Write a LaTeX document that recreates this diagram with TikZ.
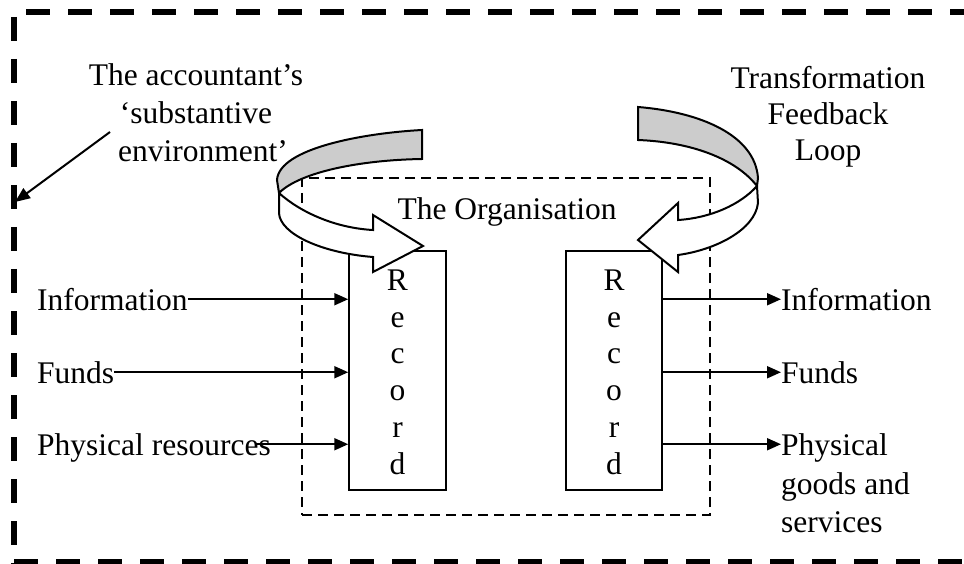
\documentclass[tikz,border=0pt]{standalone}
\usepackage{fontspec}
\setmainfont{Liberation Serif}
\usetikzlibrary{arrows.meta}
\definecolor{ribbongray}{RGB}{204,204,204}
\tikzset{
	lbl/.style={inner sep=0pt, text height=21.5pt, text depth=0pt},
	stack/.style={inner sep=0pt, align=#1},
	recbox/.style={draw, line width=2pt, fill=white, minimum width=96.5pt, minimum height=239pt, inner sep=0pt, align=center, font=\fontsize{31.5}{36.8}\selectfont},
	flow/.style={line width=2pt, -{Triangle[length=14pt,width=12pt]}},
	ribbon/.style={draw, line width=2pt, line join=miter},
	envline/.style={line width=6pt, dash pattern=on 24pt off 18pt},
}
\begin{document}
\begin{tikzpicture}[x=1pt, y=-1pt, font=\fontsize{31.5}{37}\selectfont]
		\useasboundingbox (0,0) rectangle (964,564);
		\clip (0,0) rectangle (964,564);
		% the environment border
		\draw [envline] (26,12) -- (964,12);
		\draw [envline] (14,17) -- (14,564);
		\draw [envline] (14,562) -- (964,562);
		\node [draw, line width=2pt, dash pattern=on 10pt off 6pt, minimum width=408pt, minimum height=337pt] (org) at (506,346.5) {};
		\node [lbl, anchor=base] (orgLbl) at (507,220) {The Organisation};
		\node [recbox] (recL) at (397.5,370.5) {\rule{0pt}{24pt}R\\e\\c\\o\\r\\d};
		\node [recbox] (recR) at (614,370.5) {\rule{0pt}{24pt}R\\e\\c\\o\\r\\d};
		\node [lbl, anchor=base west] (inInfo) at (37,310) {Information};
		\node [lbl, anchor=base west] (inFunds) at (37,383) {Funds};
		\node [lbl, anchor=base west] (inPhys) at (37,455) {Physical resources};
		\node [lbl, anchor=base west] (outInfo) at (781,310) {Information};
		\node [lbl, anchor=base west] (outFunds) at (781,383) {Funds};
		\node [stack=left, anchor=north west, font=\fontsize{31.5}{38.5}\selectfont] (outPhys) at (781,433.5) {Physical\\goods and\\services};
		\draw [flow] (inInfo.east) -- (inInfo.east -| recL.west);
		\draw [flow] (inFunds.east) -- (inFunds.east -| recL.west);
		\draw [flow] ([xshift=-16pt]inPhys.east) -- (inPhys.east -| recL.west);
		\draw [flow] (recR.east |- outInfo.west) -- (outInfo.west);
		\draw [flow] (recR.east |- outFunds.west) -- (outFunds.west);
		\draw [flow] (recR.east |- inPhys.east) -- (outPhys.west |- inPhys.east);
		\node [stack=center, font=\fontsize{31.5}{38}\selectfont] (acct) at (196,112.4) {The accountant’s\\‘substantive\hspace*{23pt}\\\hspace*{14pt}environment’};
		\coordinate (envFrom) at (110,132);
		\coordinate (envTo) at (15,202);
		\draw [line width=2pt, -{Triangle[length=15pt,width=12pt]}] (envFrom) -- (envTo);
		\node [stack=center, font=\fontsize{31.5}{36}\selectfont] (loopLbl) at (828,116.7) {Transformation\\Feedback\\Loop};
		% feedback ribbons
		\filldraw [ribbon, fill=ribbongray] (422,130) .. controls (365,133) and (279,148) .. (277,180) -- (279,193) .. controls (300,172) and (360,160) .. (422,159) -- cycle;
		\filldraw [ribbon, fill=white] (279,193) .. controls (300,212) and (335,228) .. (373,230) -- (373,215) -- (423,246) -- (373,272) -- (373,257) .. controls (322,253) and (280,234) .. (279,213) -- cycle;
		\filldraw [ribbon, fill=ribbongray] (638,107) .. controls (700,112) and (755,135) .. (758,178) -- (757,186) .. controls (735,158) and (690,142) .. (638,140) -- cycle;
		\filldraw [ribbon, fill=white] (757,186) .. controls (740,205) and (710,218) .. (678,220) -- (678,203) -- (638,240) -- (678,272) -- (678,255) .. controls (715,250) and (755,230) .. (758,203) -- cycle;
\end{tikzpicture}
\end{document}
